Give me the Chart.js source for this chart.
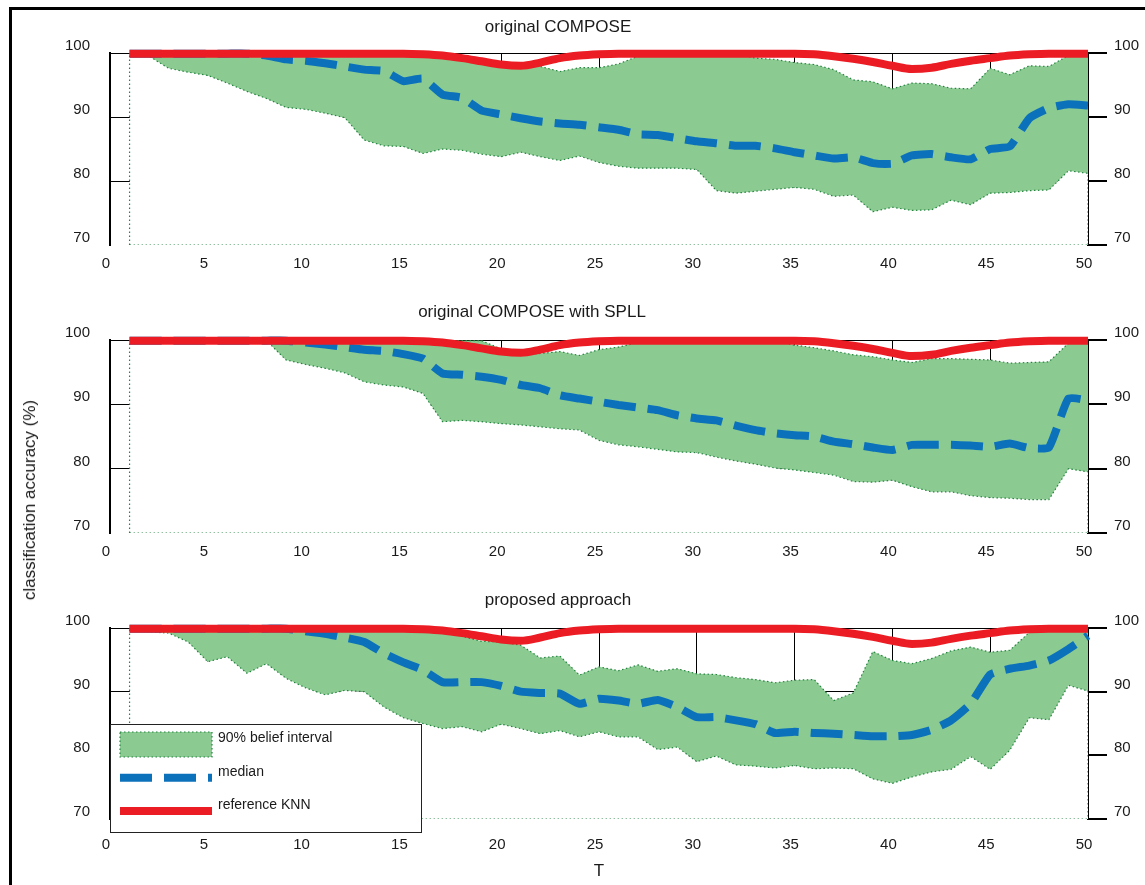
<!DOCTYPE html>
<html>
<head>
<meta charset="utf-8">
<title>classification accuracy over T</title>
<script src="https://cdn.jsdelivr.net/npm/chart.js@4.4.1/dist/chart.umd.min.js"></script>
<style>
  html, body { margin: 0; padding: 0; background: #fff; }
  #fig { position: relative; width: 1145px; height: 885px; overflow: hidden; }
  #frame { position: absolute; left: 9px; top: 7px; width: 1300px; height: 1000px;
           border-left: 3px solid #000; border-top: 3px solid #000; }
  canvas { position: absolute; left: 0; }
  #ylabel { position: absolute; left: 30px; top: 500px; transform: translate(-50%, -50%) rotate(-90deg);
            font: 17px "Liberation Sans", Arial, sans-serif; color: #1a1a1a; white-space: nowrap; }
</style>
</head>
<body>
<div id="fig">
  <div id="frame"></div>
  <canvas id="c1" width="1145" height="285" style="top:0"></canvas>
  <canvas id="c2" width="1145" height="290" style="top:285px"></canvas>
  <canvas id="c3" width="1145" height="310" style="top:575px"></canvas>
  <div id="ylabel">classification accuracy (%)</div>
</div>
<script>
// time steps
const steps = [1,2,3,4,5,6,7,8,9,10,11,12,13,14,15,16,17,18,19,20,21,22,23,24,25,
               26,27,28,29,30,31,32,33,34,35,36,37,38,39,40,41,42,43,44,45,46,47,48,49,50];

// reference KNN accuracy (same in every panel)
const knn = [99.9,99.9,99.9,99.9,99.9,99.9,99.9,99.9,99.9,99.9,
             99.9,99.9,99.9,99.9,99.9,99.8,99.6,99.2,98.7,98.2,
             98.0,98.5,99.2,99.6,99.8,99.9,99.9,99.9,99.9,99.9,
             99.9,99.9,99.9,99.9,99.9,99.8,99.5,99.1,98.6,98.0,
             97.5,97.7,98.3,98.8,99.2,99.6,99.8,99.9,99.9,99.9];

// original COMPOSE
const composeUpper = [99.9,99.9,99.9,99.9,99.9,99.9,99.9,99.9,99.9,99.9,
                      99.9,99.9,99.9,99.9,99.9,99.9,99.9,99.5,99.0,98.4,
                      97.9,97.9,97.1,97.7,97.7,98.3,99.5,99.9,99.9,99.9,
                      99.9,99.9,99.2,99.0,98.5,98.2,97.4,95.8,95.5,94.4,
                      95.3,95.2,94.5,94.4,97.6,96.6,98.0,97.9,99.6,99.9];
const composeMedian = [99.9,99.9,99.9,99.9,99.9,99.9,99.9,99.6,99.0,98.8,
                       98.4,97.9,97.4,97.2,95.6,96.0,93.5,93.0,91.0,90.4,
                       89.8,89.3,89.0,88.8,88.4,88.0,87.3,87.2,86.7,86.2,
                       85.9,85.5,85.5,85.1,84.5,84.0,83.5,83.7,82.8,82.7,
                       84.0,84.2,83.7,83.4,85.0,85.4,89.8,91.4,92.0,91.8];
const composeLower = [99.9,99.5,97.6,97.0,96.5,95.3,94.0,92.9,91.5,91.2,
                      90.6,89.9,86.4,85.5,85.4,84.3,85.0,84.8,84.2,83.8,
                      84.5,83.8,83.2,83.9,82.9,82.3,82.0,82.0,82.0,81.8,
                      78.5,78.1,78.4,78.7,79.0,78.7,77.6,77.8,75.2,75.9,
                      75.4,75.5,77.0,76.3,78.1,78.2,78.5,78.6,81.6,81.2];

// original COMPOSE with SPLL
const spllUpper = [99.9,99.9,99.9,99.9,99.9,99.9,99.9,99.9,99.9,99.9,
                   99.9,99.9,99.9,99.9,99.9,99.9,99.9,99.9,99.9,98.6,
                   97.8,97.9,98.2,97.6,98.5,98.9,99.6,99.8,99.8,99.8,
                   99.8,99.8,99.8,99.8,99.2,98.8,98.3,97.7,97.4,96.9,
                   96.5,97.1,97.1,97.0,96.9,96.4,96.5,96.6,99.5,99.7];
const spllMedian = [99.9,99.9,99.9,99.9,99.9,99.9,99.9,99.9,99.9,99.6,
                    99.3,98.9,98.5,98.3,97.8,97.1,94.8,94.6,94.3,93.8,
                    93.0,92.5,91.4,90.9,90.4,89.9,89.5,89.1,88.3,87.8,
                    87.5,86.7,86.0,85.5,85.2,85.0,84.2,83.8,83.3,82.9,
                    83.7,83.7,83.7,83.6,83.4,83.9,83.2,83.3,90.9,90.6];
const spllLower = [99.9,99.9,99.9,99.9,99.9,99.9,99.9,99.9,96.9,96.2,
                   95.6,94.9,93.5,93.0,92.7,91.7,87.3,87.5,87.3,87.0,
                   86.8,86.5,86.2,86.0,84.4,83.7,83.4,83.0,82.6,82.5,
                   81.8,81.2,80.7,80.1,79.8,79.4,79.0,78.0,77.9,78.2,
                   77.2,76.4,76.4,75.8,75.5,75.4,75.2,75.2,80.0,79.5];

// proposed approach
const proposedUpper = [99.9,99.9,99.9,99.9,99.9,99.9,99.9,99.9,99.9,99.9,
                       99.9,99.9,99.9,99.9,99.9,99.9,99.3,98.7,97.9,97.8,
                       97.3,95.3,95.6,92.6,93.9,93.3,94.2,93.2,93.6,92.8,
                       92.7,92.2,91.9,91.4,91.8,91.9,88.6,89.8,96.3,94.9,
                       94.4,95.2,96.4,97.0,96.2,96.5,99.3,99.8,99.9,99.9];
const proposedMedian = [99.9,99.9,99.9,99.9,99.9,99.9,99.9,99.9,99.9,99.5,
                        99.1,98.5,97.8,96.0,94.6,93.4,91.5,91.5,91.5,90.9,
                        90.0,89.8,89.7,88.1,88.9,88.6,88.1,88.7,87.6,86.0,
                        86.0,85.5,84.9,83.5,83.7,83.5,83.4,83.2,83.0,83.0,
                        83.2,84.0,85.5,88.1,92.7,93.6,94.1,94.9,96.7,98.8];
const proposedLower = [99.9,99.4,99.2,97.8,94.7,95.5,92.9,94.4,92.1,90.6,
                       89.5,90.2,90.0,87.6,85.9,85.0,84.2,84.5,83.7,84.9,
                       84.2,83.4,83.9,82.9,83.7,82.9,82.9,80.9,81.3,79.0,
                       79.9,78.5,78.3,78.0,78.4,77.9,78.0,77.9,76.3,75.6,
                       76.6,77.4,77.8,79.8,77.8,80.8,85.9,85.6,91.0,90.1];

const xTicks = [0, 50];
const yTicks = [70, 100];
const yMin = yTicks[0];

const GREEN = '#8bcb91';
const DOTS = '#23833f';
const BLUE = '#0c71bb';
const RED = '#ec1c24';
const FONT = '"Liberation Sans", Arial, sans-serif';

Chart.defaults.font.family = FONT;
Chart.defaults.color = '#1a1a1a';

// panel heading drawn at a fixed spot above the plot
const panelTitle = {
  id: 'panelTitle',
  afterDraw(chart, args, opts) {
    const ctx = chart.ctx;
    ctx.save();
    ctx.font = '17px ' + FONT;
    ctx.fillStyle = '#1a1a1a';
    ctx.textAlign = 'center';
    ctx.textBaseline = 'middle';
    ctx.fillText(opts.text, opts.x, opts.y);
    ctx.restore();
  }
};

// boxed legend that sits inside the plot, built from the dataset styles
const boxLegend = {
  id: 'boxLegend',
  afterDraw(chart, args, opts) {
    if (!opts.rows) return;
    const ctx = chart.ctx;
    const sets = chart.data.datasets;
    ctx.save();
    ctx.fillStyle = '#fff';
    ctx.fillRect(opts.left, opts.top, opts.width, opts.height);
    ctx.strokeStyle = '#222';
    ctx.lineWidth = 1;
    ctx.strokeRect(opts.left + 0.5, opts.top + 0.5, opts.width, opts.height);
    ctx.font = opts.font;
    ctx.textBaseline = 'middle';
    opts.rows.forEach((idx, r) => {
      const ds = sets[idx];
      const cy = opts.firstRow + r * opts.rowGap;
      const x0 = opts.left + opts.swatchX;
      const w = opts.swatchWidth;
      ctx.strokeStyle = ds.borderColor;
      ctx.lineWidth = ds.borderWidth;
      ctx.setLineDash(ds.borderDash || []);
      if (ds.fill) {
        const h = opts.patchHeight;
        ctx.fillStyle = ds.backgroundColor;
        ctx.fillRect(x0, cy - h / 2, w, h);
        ctx.strokeRect(x0, cy - h / 2, w, h);
      } else {
        ctx.beginPath();
        ctx.moveTo(x0, cy);
        ctx.lineTo(x0 + w, cy);
        ctx.stroke();
      }
      ctx.setLineDash([]);
      ctx.fillStyle = '#1a1a1a';
      ctx.fillText(ds.label, x0 + w + opts.textGap, cy + opts.textShift);
    });
    ctx.restore();
  }
};

const xy = vals => steps.map((t, i) => ({ x: t, y: vals[i] }));

function makePanel(id, cfg) {
  const first = steps[0], last = steps[steps.length - 1];
  // white patch from the axis floor up to the lower bound, closed at both ends
  const floor = [{ x: first, y: yMin }].concat(xy(cfg.lower), [{ x: last, y: yMin }]);
  const dotted = { borderColor: DOTS, borderWidth: 1.2, borderDash: [1.5, 2.5] };

  return new Chart(document.getElementById(id), {
    type: 'line',
    data: {
      datasets: [
        { label: 'reference KNN', data: xy(knn), borderColor: RED, backgroundColor: RED,
          borderWidth: 8, cubicInterpolationMode: 'monotone', fill: false, clip: false },
        { label: 'median', data: xy(cfg.median), borderColor: BLUE, backgroundColor: BLUE,
          borderWidth: 8, borderDash: [32, 12], tension: 0.15, fill: false, clip: false },
        Object.assign({ label: '90% belief interval', data: xy(cfg.upper),
          backgroundColor: GREEN, fill: '+1' }, dotted),
        { label: 'lower', data: xy(cfg.lower), borderColor: 'rgba(0,0,0,0)', borderWidth: 1, fill: false },
        Object.assign({ label: 'floor', data: floor, backgroundColor: '#fff',
          fill: { value: yMin } }, dotted),
        Object.assign({ label: 'base', data: [{ x: first, y: yMin }, { x: last, y: yMin }],
          fill: false }, dotted)
      ]
    },
    options: {
      responsive: false,
      animation: false,
      layout: { padding: { top: cfg.top, left: 0, right: 0, bottom: 0 } },
      elements: { point: { radius: 0, hoverRadius: 0 }, line: { tension: 0 } },
      plugins: {
        legend: { display: false },
        tooltip: { enabled: false },
        filler: { drawTime: 'beforeDatasetsDraw' },
        panelTitle: { text: cfg.title, x: cfg.titleX, y: cfg.titleY },
        boxLegend: cfg.legend || {}
      },
      scales: {
        x: {
          type: 'linear', position: 'bottom', min: xTicks[0], max: xTicks[1],
          border: { display: false },
          grid: { color: '#000', lineWidth: 1, drawTicks: false },
          ticks: { stepSize: 5, padding: cfg.xPad, labelOffset: -4, maxRotation: 0, autoSkip: false,
                   font: { size: 15 } },
          title: cfg.xTitle ? { display: true, text: cfg.xTitle, font: { size: 17 },
                                padding: { top: 0, bottom: 3 } } : { display: false },
          afterFit: s => { s.height = cfg.xHeight; }
        },
        y: {
          position: 'left', min: yTicks[0], max: yTicks[1],
          border: { display: true, color: '#000', width: 2 },
          grid: { drawTicks: false, lineWidth: 1,
                  color: c => (c.tick && c.tick.value === yMin) ? 'rgba(0,0,0,0)' : '#000' },
          ticks: { stepSize: 10, padding: 20, labelOffset: -7, font: { size: 15 } },
          afterFit: s => { s.width = 110; }
        },
        yRight: {
          position: 'right', min: yTicks[0], max: yTicks[1],
          border: { display: true, color: '#000', width: 2 },
          grid: { drawOnChartArea: false, drawTicks: true, tickLength: 19, color: '#000', lineWidth: 2 },
          ticks: { stepSize: 10, padding: 7, labelOffset: -7, font: { size: 15 } },
          afterFit: s => { s.width = 57; }
        }
      }
    },
    plugins: [panelTitle, boxLegend]
  });
}

makePanel('c1', { title: 'original COMPOSE', titleX: 558, titleY: 27, top: 53, xHeight: 40, xPad: 10,
  upper: composeUpper, median: composeMedian, lower: composeLower });

makePanel('c2', { title: 'original COMPOSE with SPLL', titleX: 532, titleY: 27, top: 55, xHeight: 42, xPad: 10,
  upper: spllUpper, median: spllMedian, lower: spllLower });

makePanel('c3', { title: 'proposed approach', titleX: 558, titleY: 25, top: 53, xHeight: 66, xPad: 17, xTitle: 'T',
  upper: proposedUpper, median: proposedMedian, lower: proposedLower,
  legend: { rows: [2, 1, 0], left: 110, top: 149, width: 311, height: 108,
            swatchX: 10, swatchWidth: 92, patchHeight: 25, firstRow: 169.5, rowGap: 33.3,
            textGap: 6, textShift: -6, font: '14px ' + FONT } });
</script>
</body>
</html>
